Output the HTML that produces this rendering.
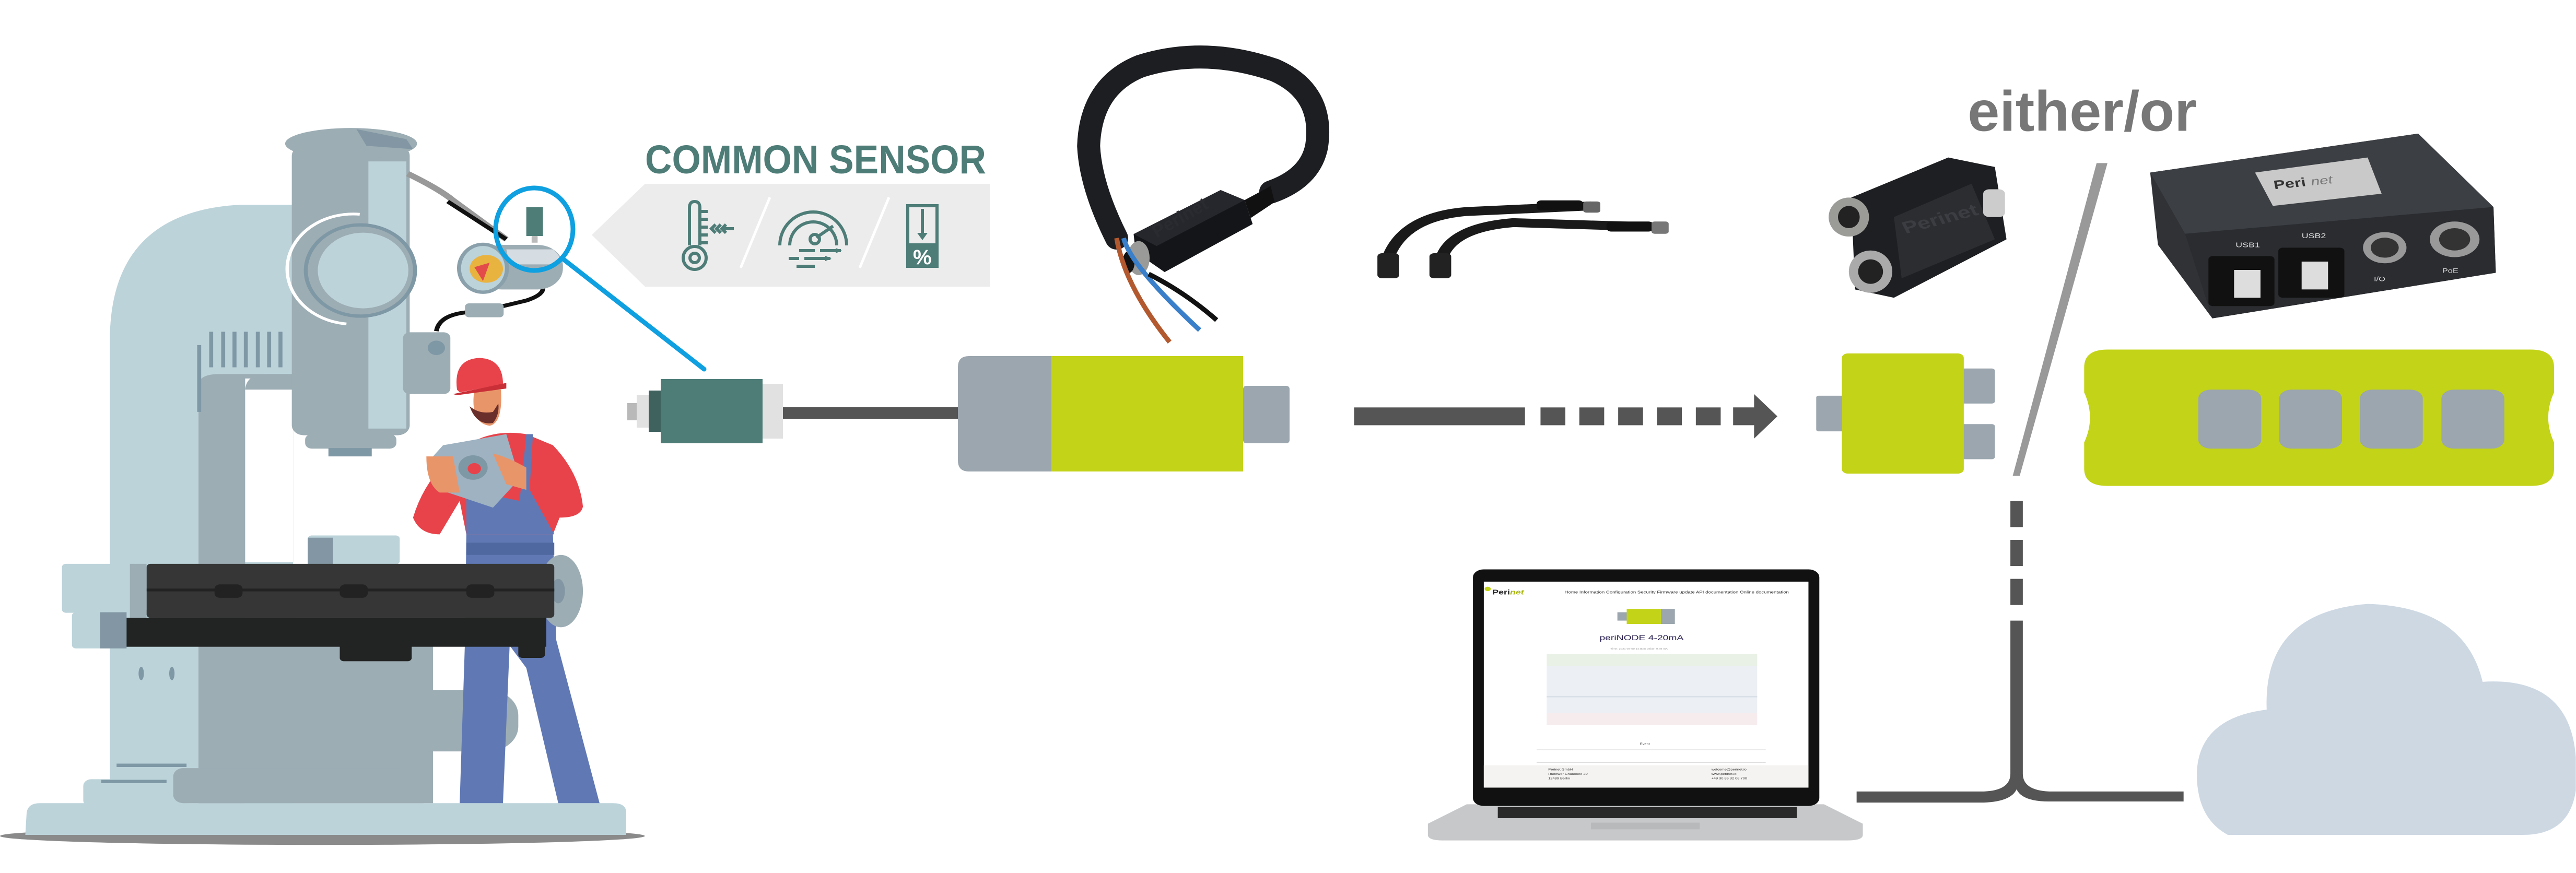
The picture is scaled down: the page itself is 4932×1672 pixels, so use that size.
<!DOCTYPE html>
<html><head><meta charset="utf-8"><style>
html,body{margin:0;padding:0;background:#fff}
svg{display:block}
text{font-family:"Liberation Sans",sans-serif}
</style></head><body>
<svg width="4932" height="1672" viewBox="0 0 4932 1672" xmlns="http://www.w3.org/2000/svg">
<rect width="4932" height="1672" fill="#fff"/>

<g transform="scale(1.2755,1.066)">
  <ellipse cx="484" cy="1502" rx="484" ry="16" fill="#8a8a8a"/>
  <path d="M38 1500 L40 1460 Q42 1443 60 1443 L920 1443 Q940 1443 940 1460 L940 1500 Z" fill="#bcd3da"/>
  <rect x="125" y="1400" width="160" height="50" rx="12" fill="#bcd3da"/>
  <path d="M165 1443 L165 600 Q170 380 360 368 L440 368 L440 1443 Z" fill="#bcd3da"/>
  <path d="M298 1443 L298 690 Q300 672 330 672 L440 672 L440 1010 L368 1010 L368 1443 Z" fill="#9dadb4"/>
  <rect x="368" y="680" width="72" height="330" fill="#fff"/>
  <path d="M368 700 Q370 672 400 672 L440 672 L440 700 Z" fill="#9dadb4"/>
  <rect x="298" y="1160" width="352" height="283" fill="#9dadb4"/>
  <rect x="260" y="1380" width="390" height="63" rx="15" fill="#9dadb4"/>
  <rect x="600" y="1240" width="178" height="110" rx="45" fill="#9dadb4"/>
  <line x1="175" y1="1375" x2="280" y2="1375" stroke="#7f98a6" stroke-width="6"/>
  <line x1="152" y1="1404" x2="250" y2="1404" stroke="#7f98a6" stroke-width="6"/>
  <ellipse cx="212" cy="1210" rx="4" ry="12" fill="#7f98a6"/>
  <ellipse cx="258" cy="1210" rx="4" ry="12" fill="#7f98a6"/>
  <rect x="298" y="578" width="142" height="82" fill="#bcd3da"/>
  <g stroke="#7f98a6" stroke-width="6">
    <line x1="317" y1="596" x2="317" y2="660"/><line x1="335" y1="596" x2="335" y2="660"/>
    <line x1="352" y1="596" x2="352" y2="660"/><line x1="369" y1="596" x2="369" y2="660"/>
    <line x1="387" y1="596" x2="387" y2="660"/><line x1="404" y1="596" x2="404" y2="660"/>
    <line x1="421" y1="596" x2="421" y2="660"/><line x1="299" y1="620" x2="299" y2="740"/>
  </g>
  <rect x="438" y="262" width="177" height="520" rx="18" fill="#9dadb4"/>
  <rect x="553" y="290" width="57" height="480" fill="#bcd3da"/>
  <ellipse cx="527" cy="258" rx="99" ry="28" fill="#9dadb4"/>
  <path d="M535 232 L610 250 L620 268 L550 262 Z" fill="#8297a3"/>
  <rect x="458" y="780" width="137" height="26" rx="10" fill="#9dadb4"/>
  <rect x="493" y="805" width="65" height="15" fill="#7f98a6"/>
  <circle cx="541" cy="486" r="82" fill="#9dadb4" stroke="#7f98a6" stroke-width="6"/>
  <circle cx="545" cy="486" r="68" fill="#bcd3da"/>
  <path d="M520 582 A95 95 0 0 1 540 385" fill="none" stroke="#fff" stroke-width="5"/>
  <rect x="605" y="597" width="71" height="111" rx="10" fill="#9dadb4"/>
  <circle cx="655" cy="625" r="13" fill="#7f98a6"/>
  <path d="M612 312 Q660 340 680 360 L760 430" stroke="#999" stroke-width="10" fill="none"/>
  <path d="M672 362 L760 430" stroke="#111" stroke-width="7" fill="none"/>
  <path d="M655 595 Q660 560 720 560 L790 540 Q815 530 815 518" stroke="#111" stroke-width="7" fill="none"/>
  <rect x="698" y="545" width="58" height="25" rx="6" fill="#9dadb4"/>
  <rect x="715" y="440" width="130" height="80" rx="38" fill="#9dadb4"/>
  <ellipse cx="725" cy="482" rx="36" ry="43" fill="#bcd3da" stroke="#8aa0ab" stroke-width="6"/>
  <circle cx="730" cy="483" r="25" fill="#e9b340"/>
  <path d="M712 480 L735 472 L725 505 Z" fill="#e34b4b"/>
  <path d="M760 448 L830 448 Q845 462 838 475 L765 475 Z" fill="#d5dce2"/>
  <rect x="790" y="372" width="25" height="52" fill="#4e7d78"/>
  <rect x="798" y="424" width="9" height="12" fill="#bbb"/>
  <!-- worker (behind table) -->
  <path d="M698 1150 L700 960 L830 960 L835 1150 L900 1443 L838 1443 L790 1200 L765 1160 L755 1443 L690 1443 Z" fill="#6079b5"/>
  <path d="M700 800 Q740 770 790 780 L830 800 Q870 850 875 910 Q872 930 840 930 L830 960 L700 960 L690 900 L660 960 Q630 960 620 930 Q640 850 700 800 Z" fill="#e8434b"/>
  <path d="M700 880 L780 900 L790 780 L800 780 L795 880 L832 960 L700 960 Z" fill="#6079b5"/>
  <rect x="700" y="975" width="132" height="22" fill="#5068a0"/>
  <path d="M712 700 Q705 760 735 765 Q755 760 752 700 Z" fill="#e9956a"/>
  <path d="M705 730 Q715 765 740 760 Q750 745 748 725 L740 740 Q720 745 705 730 Z" fill="#6a2f2a"/>
  <path d="M686 700 Q680 645 720 643 Q755 645 755 690 L690 705 Z" fill="#e8434b"/>
  <path d="M680 708 L760 688 L760 698 L686 710 Z" fill="#c92f37"/>
  <path d="M665 800 L760 780 L780 860 L740 912 L660 880 L650 820 Z" fill="#9eb2c1"/>
  <circle cx="710" cy="840" r="22" fill="#7f98a6"/>
  <circle cx="712" cy="842" r="10" fill="#e8434b"/>
  <path d="M640 820 Q640 870 660 885 L690 885 L680 820 Z" fill="#e9956a"/>
  <path d="M740 815 Q760 820 790 840 L790 880 L760 870 Z" fill="#e9956a"/>
  <!-- table -->
  <rect x="462" y="962" width="138" height="52" rx="6" fill="#bcd3da"/>
  <rect x="462" y="966" width="38" height="48" fill="#8297a3"/>
  <ellipse cx="842" cy="1062" rx="33" ry="65" fill="#9dadb4"/>
  <ellipse cx="838" cy="1062" rx="10" ry="22" fill="#8297a3"/>
  <rect x="220" y="1013" width="612" height="97" rx="6" fill="#353635"/>
  <line x1="220" y1="1060" x2="832" y2="1060" stroke="#222" stroke-width="5"/>
  <rect x="322" y="1050" width="42" height="24" rx="8" fill="#222"/>
  <rect x="510" y="1050" width="42" height="24" rx="8" fill="#222"/>
  <rect x="700" y="1050" width="42" height="24" rx="8" fill="#222"/>
  <rect x="178" y="1110" width="642" height="52" fill="#222423"/>
  <rect x="510" y="1150" width="108" height="38" rx="6" fill="#222423"/>
  <rect x="778" y="1150" width="40" height="32" rx="6" fill="#222423"/>
  <rect x="93" y="1013" width="127" height="88" rx="6" fill="#bcd3da"/>
  <rect x="108" y="1100" width="72" height="65" rx="6" fill="#bcd3da"/>
  <rect x="150" y="1100" width="40" height="65" fill="#8297a3"/>
  <rect x="195" y="1013" width="25" height="97" fill="#9dadb4"/>
</g>

<ellipse cx="1023" cy="439" rx="74" ry="79" fill="none" stroke="#0ea0e0" stroke-width="9"/>
<line x1="1078" y1="496" x2="1348" y2="707" stroke="#0ea0e0" stroke-width="9" stroke-linecap="round"/>

<text x="1235" y="332" font-size="77" font-weight="bold" fill="#4e7d78" textLength="653" lengthAdjust="spacingAndGlyphs">COMMON SENSOR</text>
<path d="M1133 450 L1235 352 L1895 352 L1895 549 L1235 549 Z" fill="#ececec"/>
<g fill="none" stroke="#4e7d78" stroke-width="6">
  <path d="M1320 470 L1320 398 Q1320 386 1330 386 Q1340 386 1340 398 L1340 470"/>
  <circle cx="1330" cy="494" r="22"/>
  <circle cx="1330" cy="494" r="9"/>
  <line x1="1340" y1="405" x2="1355" y2="405"/><line x1="1340" y1="420" x2="1355" y2="420"/>
  <line x1="1340" y1="435" x2="1355" y2="435"/><line x1="1340" y1="450" x2="1355" y2="450"/>
  <line x1="1340" y1="465" x2="1355" y2="465"/>
  <path d="M1370 430 L1362 438 L1370 446 M1380 430 L1372 438 L1380 446 M1390 430 L1382 438 L1390 446"/>
  <line x1="1382" y1="438" x2="1405" y2="438"/>
  <path d="M1493 470 A62 62 0 1 1 1621 470"/>
  <path d="M1512 470 A45 45 0 1 1 1602 470"/>
  <line x1="1563" y1="455" x2="1595" y2="433"/>
  <circle cx="1560" cy="458" r="9"/>
  <path d="M1530 480 L1560 480 M1570 480 L1610 480 M1510 495 L1530 495 M1540 495 L1590 495 M1525 510 L1560 510"/>
</g>
<path d="M1600 475 L1612 480 L1600 485 Z M1580 490 L1592 495 L1580 500 Z" fill="#4e7d78"/>
<rect x="1738" y="394" width="56" height="116" fill="none" stroke="#4e7d78" stroke-width="6"/>
<rect x="1738" y="466" width="56" height="46" fill="#4e7d78"/>
<line x1="1766" y1="400" x2="1766" y2="452" stroke="#4e7d78" stroke-width="6"/>
<path d="M1756 446 L1766 460 L1776 446 Z" fill="#4e7d78"/>
<text x="1748" y="506" font-size="40" font-weight="bold" fill="#fff">%</text>
<line x1="1474" y1="378" x2="1418" y2="513" stroke="#fff" stroke-width="5"/>
<line x1="1702" y1="378" x2="1646" y2="513" stroke="#fff" stroke-width="5"/>

<rect x="1201" y="772" width="18" height="33" fill="#b9b9b9"/>
<rect x="1219" y="757" width="23" height="62" fill="#e1e1e1"/>
<rect x="1242" y="748" width="23" height="79" fill="#3f625f"/>
<rect x="1265" y="726" width="195" height="123" fill="#4e7d78"/>
<rect x="1460" y="735" width="39" height="105" fill="#e1e1e1"/>
<rect x="1499" y="780" width="338" height="22" fill="#555"/>

<path d="M1855 682 L2013 682 L2013 903 L1855 903 Q1834 903 1834 882 L1834 703 Q1834 682 1855 682 Z" fill="#9ba6ae"/>
<rect x="2013" y="682" width="367" height="221" fill="#c3d317"/>
<rect x="2380" y="739" width="89" height="110" rx="6" fill="#9ba6ae"/>

<g transform="translate(2000,50) scale(0.383)">
  <path d="M360 1060 Q230 800 220 600 Q230 300 480 200 Q800 100 1150 220 Q1400 330 1360 600 Q1330 760 1130 830" fill="none" stroke="#1d1e22" stroke-width="115" stroke-linecap="round"/>
  <path d="M1000 870 L1130 800 L1150 880 L1030 960 Z" fill="#111"/>
  <path d="M445 1040 L880 820 L1000 870 L1040 990 L600 1230 L455 1130 Z" fill="#141519"/>
  <path d="M445 1040 L880 820 L1000 870 L560 1100 Z" fill="#26272c"/>
  <text x="560" y="1060" font-size="90" font-weight="bold" fill="#2a2b30" transform="rotate(-30 560 1060)">Perinet</text>
  <ellipse cx="470" cy="1160" rx="55" ry="85" fill="#9a9a98"/>
  <ellipse cx="420" cy="1180" rx="30" ry="55" fill="#111"/>
  <path d="M360 1060 Q400 1300 625 1580" stroke="#b3592f" stroke-width="24" fill="none"/>
  <path d="M395 1060 Q430 1200 775 1520" stroke="#3a7fc9" stroke-width="24" fill="none"/>
  <path d="M520 1240 Q700 1330 860 1470" stroke="#111" stroke-width="24" fill="none"/>
</g>

<g transform="translate(2600,0) scale(1.487,1.066)">
  <rect x="-5" y="732" width="220" height="32" fill="#555"/>
  <rect x="235" y="732" width="32" height="32" fill="#555"/>
  <rect x="285" y="732" width="32" height="32" fill="#555"/>
  <rect x="335" y="732" width="32" height="32" fill="#555"/>
  <rect x="385" y="732" width="32" height="32" fill="#555"/>
  <rect x="435" y="732" width="32" height="32" fill="#555"/>
  <path d="M483 732 L510 732 L510 708 L540 748 L510 788 L510 764 L483 764 Z" fill="#555"/>
  <rect x="590" y="711" width="40" height="64" rx="3" fill="#9ba6ae"/>
  <rect x="770" y="662" width="50" height="63" rx="4" fill="#9ba6ae"/>
  <rect x="770" y="762" width="50" height="63" rx="4" fill="#9ba6ae"/>
  <rect x="623" y="635" width="157" height="216" rx="8" fill="#c3d317"/>
  <text x="785" y="235" font-size="102" font-weight="bold" fill="#777" textLength="295" lengthAdjust="spacingAndGlyphs">either/or</text>
  <path d="M951 293 L965 293 L852 855 L843 855 Z" fill="#999"/>
  <rect x="840" y="900" width="16" height="47" fill="#555"/>
  <rect x="840" y="970" width="16" height="47" fill="#555"/>
  <rect x="840" y="1040" width="16" height="47" fill="#555"/>
  <path d="M840 1115 L856 1115 L856 1390 Q856 1420 890 1422 L1063 1422 L1063 1440 L890 1440 Q855 1440 848 1418 Q841 1440 806 1442 L642 1442 L642 1422 L806 1422 Q840 1420 840 1390 Z" fill="#555"/>
  <path d="M965 628 L1510 628 Q1540 628 1540 660 L1540 705 Q1525 750 1540 795 L1540 842 Q1540 873 1510 873 L965 873 Q935 873 935 842 L935 795 Q950 750 935 705 L935 660 Q935 628 965 628 Z" fill="#c3d317"/>
  <rect x="1082" y="700" width="81" height="106" rx="16" fill="#9ba6ae"/>
  <rect x="1186" y="700" width="81" height="106" rx="16" fill="#9ba6ae"/>
  <rect x="1290" y="700" width="81" height="106" rx="16" fill="#9ba6ae"/>
  <rect x="1395" y="700" width="81" height="106" rx="16" fill="#9ba6ae"/>
  <path d="M1120 1500 Q1080 1470 1080 1390 Q1082 1290 1170 1275 Q1165 1100 1300 1085 Q1425 1090 1448 1225 Q1560 1215 1568 1360 L1568 1420 Q1560 1500 1500 1500 Z" fill="#cdd8e3"/>
  <path d="M35 480 Q50 390 140 380 L300 370" fill="none" stroke="#1a1a1a" stroke-width="16"/>
  <path d="M105 480 Q110 410 200 400 L390 408" fill="none" stroke="#1a1a1a" stroke-width="16"/>
  <rect x="25" y="455" width="28" height="45" rx="6" fill="#222"/>
  <rect x="92" y="455" width="28" height="45" rx="6" fill="#222"/>
  <rect x="230" y="360" width="60" height="18" rx="6" fill="#111"/>
  <rect x="290" y="362" width="22" height="20" rx="4" fill="#666"/>
  <rect x="320" y="398" width="60" height="18" rx="6" fill="#111"/>
  <rect x="378" y="398" width="22" height="22" rx="4" fill="#777"/>
  <path d="M635 355 L760 283 L820 300 L835 430 L690 535 L640 520 Z" fill="#1e1f22"/>
  <path d="M690 390 L790 330 L820 430 L700 500 Z" fill="#2c2d31"/>
  <text x="705" y="420" font-size="30" font-weight="bold" fill="#3c3d42" transform="rotate(-20 705 420)">Perinet</text>
  <ellipse cx="632" cy="390" rx="26" ry="35" fill="#9b9b98"/>
  <ellipse cx="632" cy="390" rx="14" ry="20" fill="#222"/>
  <ellipse cx="660" cy="488" rx="28" ry="38" fill="#aaa"/>
  <ellipse cx="660" cy="488" rx="16" ry="22" fill="#222"/>
  <rect x="805" y="340" width="28" height="50" rx="8" fill="#ccc"/>
  <path d="M1020 310 L1365 240 L1462 372 L1465 490 L1100 572 L1030 440 Z" fill="#303236"/>
  <path d="M1020 310 L1365 240 L1462 372 L1065 420 Z" fill="#3c3f44"/>
  <path d="M1065 420 L1462 372 L1465 490 L1100 572 Z" fill="#2a2c30"/>
  <path d="M1155 310 L1300 283 L1318 348 L1178 370 Z" fill="#c9c9c9"/>
  <text x="1180" y="340" font-size="22" font-weight="bold" fill="#333" transform="rotate(-8 1180 340)">Peri</text>
  <text x="1228" y="333" font-size="20" font-style="italic" fill="#777" transform="rotate(-8 1228 333)">net</text>
  <rect x="1095" y="460" width="85" height="90" rx="6" fill="#111"/>
  <rect x="1185" y="445" width="85" height="90" rx="6" fill="#111"/>
  <rect x="1128" y="485" width="34" height="50" fill="#ddd"/><rect x="1215" y="470" width="34" height="50" fill="#ddd"/>
  <text x="1130" y="444" font-size="12" fill="#ddd">USB1</text>
  <text x="1215" y="428" font-size="12" fill="#ddd">USB2</text>
  <circle cx="1322" cy="445" r="28" fill="#999"/><circle cx="1322" cy="445" r="18" fill="#333"/>
  <circle cx="1412" cy="430" r="32" fill="#999"/><circle cx="1412" cy="430" r="20" fill="#333"/>
  <text x="1308" y="505" font-size="11" fill="#ddd">I/O</text>
  <text x="1396" y="490" font-size="11" fill="#ddd">PoE</text>
  <path d="M90 1480 L140 1445 L600 1445 L650 1480 L650 1500 Q650 1510 630 1510 L110 1510 Q90 1510 90 1500 Z" fill="#c6c8ca"/>
  <rect x="180" y="1450" width="385" height="20" fill="#2a2a2a"/>
  <rect x="300" y="1478" width="140" height="12" fill="#b7b9bb"/>
  <rect x="148" y="1023" width="446" height="425" rx="14" fill="#111"/>
  <rect x="162" y="1045" width="418" height="370" fill="#fff"/>
  <rect x="162" y="1375" width="418" height="40" fill="#f4f3f1"/>
  <circle cx="167" cy="1058" r="4" fill="#c3d317"/>
  <text x="173" y="1068" font-size="12" font-weight="bold" fill="#222">Peri<tspan fill="#a8b80e" font-style="italic">net</tspan></text>
  <text x="266" y="1066" font-size="6.5" fill="#333">Home  Information  Configuration  Security  Firmware update  API documentation  Online documentation</text>
  <rect x="334" y="1100" width="12" height="15" fill="#9ba6ae"/>
  <rect x="346" y="1094" width="44" height="27" fill="#c3d317"/>
  <rect x="390" y="1094" width="18" height="27" fill="#9ba6ae"/>
  <text x="311" y="1150" font-size="13" fill="#2a2050">periNODE 4-20mA</text>
  <text x="325" y="1167" font-size="4" fill="#999">Time: 2021-04-00 14:0pm    Value: 9.49 mA</text>
  <rect x="243" y="1175" width="271" height="22" fill="#e9f1e6"/>
  <rect x="243" y="1197" width="271" height="84" fill="#ecf0f4"/>
  <rect x="243" y="1281" width="271" height="22" fill="#f6ecee"/>
  <line x1="243" y1="1252" x2="514" y2="1252" stroke="#c8d0dc" stroke-width="1.5"/>
  <text x="363" y="1338" font-size="5" fill="#333">Event</text>
  <line x1="230" y1="1347" x2="525" y2="1347" stroke="#ddd"/>
  <line x1="230" y1="1370" x2="525" y2="1370" stroke="#ddd"/>
  <text x="245" y="1384" font-size="5" fill="#333">Perinet GmbH</text>
  <text x="245" y="1392" font-size="5" fill="#333">Rudower Chaussee 29</text>
  <text x="245" y="1400" font-size="5" fill="#333">12489 Berlin</text>
  <text x="455" y="1384" font-size="5" fill="#333">welcome@perinet.io</text>
  <text x="455" y="1392" font-size="5" fill="#333">www.perinet.io</text>
  <text x="455" y="1400" font-size="5" fill="#333">+49 30 86 32 06 700</text>
</g>
</svg>
</body></html>
